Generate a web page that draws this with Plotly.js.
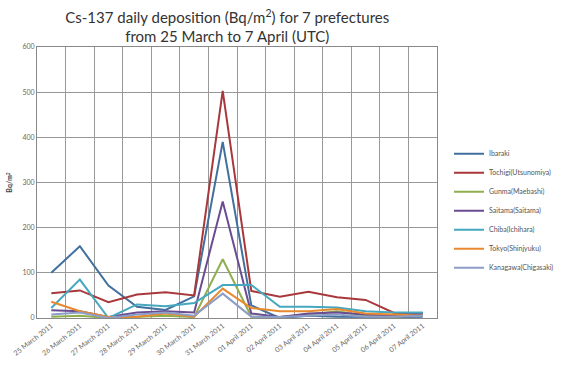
<!DOCTYPE html>
<html>
<head>
<meta charset="utf-8">
<script src="https://cdn.plot.ly/plotly-3.0.1.min.js"></script>
<style>html,body{margin:0;padding:0;background:#fff}#chart{width:571px;height:369px}</style>
</head>
<body>
<div id="chart"></div>
<script>
const dates = ["25 March 2011","26 March 2011","27 March 2011","28 March 2011","29 March 2011","30 March 2011","31 March 2011","01 April 2011","02 April 2011","03 April 2011","04 April 2011","05 April 2011","06 April 2011","07 April 2011"];
const ibaraki  = [100, 159, 72, 25, 18, 48, 390, 28, 0, 5, 3, 2, 2, 3];
const tochigi  = [55, 61, 35, 52, 57, 50, 503, 60, 47, 58, 46, 40, 11, 11];
const gunma    = [3, 5, 0, 2, 5, 2, 130, 3, 2, 8, 15, 5, 3, 8];
const saitama  = [17, 15, 2, 12, 15, 12, 258, 10, 2, 10, 12, 8, 6, 10];
const chiba    = [22, 85, 0, 30, 26, 33, 73, 73, 25, 25, 23, 15, 12, 12];
const tokyo    = [36, 15, 2, 3, 10, 3, 65, 22, 15, 15, 20, 10, 8, 5];
const kanagawa = [8, 12, 0, 8, 12, 5, 54, 3, 2, 5, 8, 3, 3, 5];
const names = ["Ibaraki","Tochigi(Utsunomiya)","Gunma(Maebashi)","Saitama(Saitama)","Chiba(Ichihara)","Tokyo(Shinjyuku)","Kanagawa(Chigasaki)"];
const series = [ibaraki, tochigi, gunma, saitama, chiba, tokyo, kanagawa];
const colors = ["#41709E","#A8383B","#8FAF4F","#6A4C93","#46A8BE","#E8892E","#8C9DC8"];

const traces = series.map((s, i) => ({
  x: dates, y: s, name: names[i], type: "scatter", mode: "lines",
  line: {color: colors[i], width: 2}
}));

const layout = {
  width: 571, height: 369,
  margin: {l: 37, r: 102, t: 47, b: 51},
  paper_bgcolor: "#fff", plot_bgcolor: "#fff",
  font: {family: "Lato, 'Open Sans', sans-serif", color: "#555"},
  title: {
    text: "Cs-137 daily deposition (Bq/m<sup>2</sup>) for 7 prefectures<br>from 25 March to 7 April (UTC)",
    x: 0.398, xanchor: "center", y: 0.938, yanchor: "middle",
    font: {family: "Lato, 'Open Sans', sans-serif", size: 15, color: "#333"}
  },
  xaxis: {
    type: "category", range: [-0.5, 13.5], tickson: "boundaries",
    showgrid: true, gridcolor: "#999", gridwidth: 1,
    showline: true, linecolor: "#888", linewidth: 1, mirror: true,
    ticks: "", tickangle: -38, tickfont: {size: 7, color: "#666"},
    fixedrange: true
  },
  yaxis: {
    range: [0, 600], dtick: 100,
    showgrid: true, gridcolor: "#999", gridwidth: 1,
    showline: true, linecolor: "#888", linewidth: 1, mirror: true,
    zeroline: false, ticks: "", tickfont: {size: 7, color: "#666"},
    title: {text: "<b>Bq/m<sup>2</sup></b>", font: {size: 7, color: "#444"}, standoff: 8}
  },
  legend: {
    x: 1.03, xanchor: "left", y: 0.66, yanchor: "top",
    font: {size: 7, color: "#555"}, itemwidth: 30, tracegroupgap: 0,
    bgcolor: "rgba(0,0,0,0)"
  },
  showlegend: true
};

Plotly.newPlot("chart", traces, layout, {displayModeBar: false, staticPlot: true});
</script>
</body>
</html>
